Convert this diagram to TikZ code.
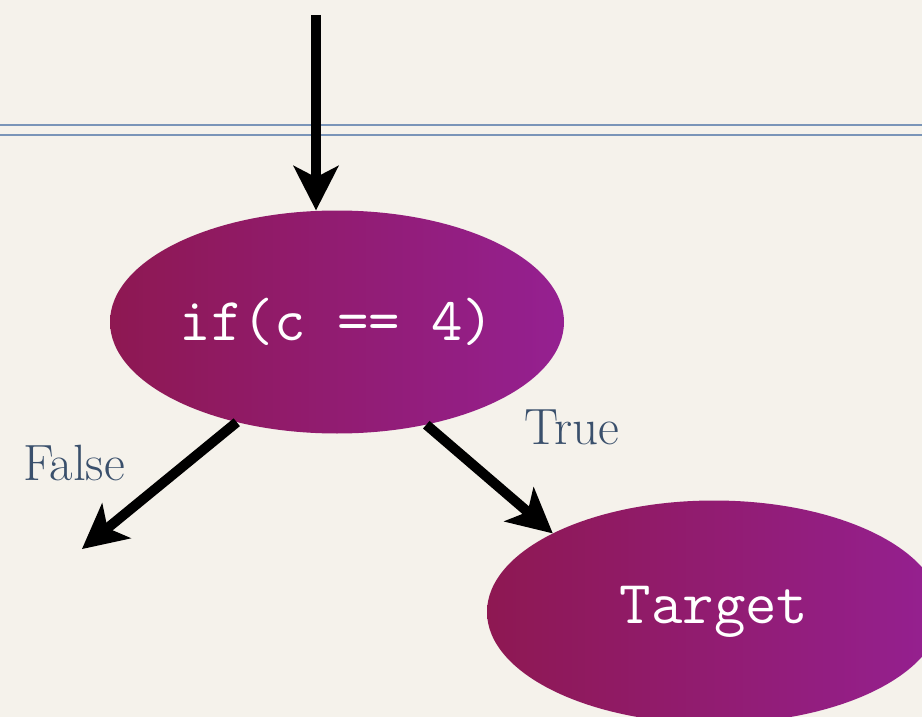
\documentclass[tikz,border=0pt]{standalone}
\usepackage{fontspec}
\usetikzlibrary{arrows.meta,shapes.geometric}

\definecolor{paper}{RGB}{245,242,235}
\definecolor{rule}{RGB}{122,149,184}
\definecolor{plumL}{RGB}{142,24,82}
\definecolor{plumR}{RGB}{149,32,145}
\definecolor{labelink}{RGB}{58,80,108}

\tikzset{
  decision/.style={ellipse, minimum width=454pt, minimum height=223pt, inner sep=0pt,
    left color=plumL, right color=plumR, text=white,
    font=\ttfamily\fontsize{61}{61}\selectfont},
  flow/.style={line width=10pt, black,
    -{Stealth[length=45pt, width=46pt, inset=12pt, line width=0pt]}},
  branchlabel/.style={text=labelink, font=\fontsize{51}{51}\selectfont, inner sep=0pt},
  guide/.style={rule, line width=2pt}
}

\begin{document}
\begin{tikzpicture}[x=1pt, y=-1pt]
  % page
  \fill[paper] (0,0) rectangle (922,717);
  \useasboundingbox (0,0) rectangle (922,717);

  % double rule across the page
  \coordinate (ruleAL) at (0,125);
  \coordinate (ruleAR) at (922,125);
  \coordinate (ruleBL) at (0,135);
  \coordinate (ruleBR) at (922,135);
  \draw[guide] (ruleAL) -- (ruleAR);
  \draw[guide] (ruleBL) -- (ruleBR);

  % nodes
  \node[decision] (cond) at (337,322) {if(c == 4)};
  \node[decision] (target) at (714,612) {Target};

  % connectors
  \coordinate (entry) at (316,15);
  \coordinate (falseEnd) at (82,549);
  \draw[flow] (entry) -- (entry |- cond.north);
  \draw[flow] (cond.225) -- (falseEnd);
  \draw[flow] (cond.311) -- (target.154);

  % branch labels
  \node[branchlabel] (lblTrue) at (572,427) {True};
  \node[branchlabel] (lblFalse) at (74,463) {False};
\end{tikzpicture}
\end{document}
